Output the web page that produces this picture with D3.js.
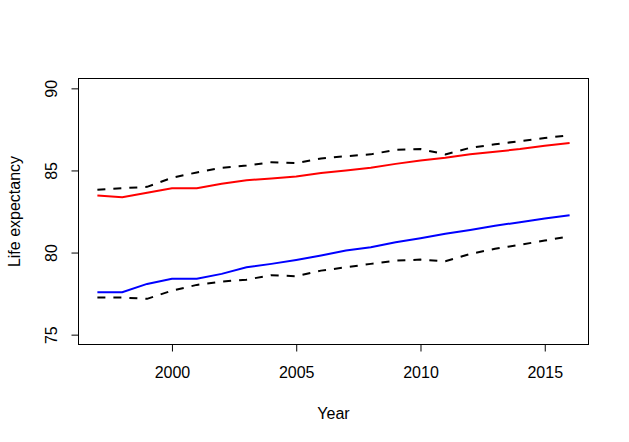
<!DOCTYPE html>
<html>
<head>
<meta charset="utf-8">
<script src="https://cdn.jsdelivr.net/npm/d3@7"></script>
<style>
  body { margin: 0; background: #fff; }
  svg text { font-family: Arial, "Liberation Sans", sans-serif; fill: #000; }
</style>
</head>
<body>
<svg id="chart" width="629" height="442"></svg>
<script>
const years = d3.range(1997, 2017);

// female estimate (red) and its upper band
const female = [83.48, 83.37, 83.64, 83.92, 83.92, 84.19, 84.41, 84.51, 84.63, 84.84,
                85.00, 85.16, 85.40, 85.61, 85.77, 85.98, 86.14, 86.30, 86.50, 86.67];
const femaleUpper = [83.82, 83.92, 84.00, 84.55, 84.88, 85.16, 85.30, 85.50, 85.45, 85.73,
                     85.87, 85.98, 86.26, 86.30, 85.98, 86.38, 86.59, 86.79, 86.97, 87.15];

// male estimate (blue) and its lower band
const male = [77.58, 77.58, 78.09, 78.40, 78.40, 78.70, 79.10, 79.31, 79.55, 79.82,
              80.12, 80.32, 80.63, 80.87, 81.14, 81.38, 81.63, 81.85, 82.07, 82.27];
const maleLower = [77.26, 77.26, 77.18, 77.68, 78.03, 78.23, 78.35, 78.62, 78.56, 78.90,
                   79.10, 79.31, 79.51, 79.57, 79.47, 79.92, 80.23, 80.47, 80.73, 80.99];

const xTicks = [2000, 2005, 2010, 2015];
const yTicks = [75, 80, 85, 90];

const svg = d3.select('#chart');
const plot = {left: 78.5, right: 588.5, top: 78.5, bottom: 344.5};

// R-style 4% padding around data range
const x = d3.scaleLinear().domain([1996.24, 2016.76]).range([plot.left, plot.right]);
const y = d3.scaleLinear().domain([74.4, 90.6]).range([plot.bottom, plot.top]);

const line = d3.line()
    .x((d, i) => x(years[i]))
    .y((d) => y(d));

const series = [
    {values: femaleUpper, color: '#000', dash: '8,8'},
    {values: maleLower, color: '#000', dash: '8,8'},
    {values: female, color: '#ff0000', dash: null},
    {values: male, color: '#0000ff', dash: null}
];

svg.append('g')
  .selectAll('path')
  .data(series)
  .enter()
  .append('path')
    .attr('d', (s) => line(s.values))
    .attr('fill', 'none')
    .attr('stroke', (s) => s.color)
    .attr('stroke-width', 2)
    .attr('stroke-dasharray', (s) => s.dash);

// box
svg.append('rect')
    .attr('x', plot.left)
    .attr('y', plot.top)
    .attr('width', plot.right - plot.left)
    .attr('height', plot.bottom - plot.top)
    .attr('fill', 'none')
    .attr('stroke', '#000')
    .attr('stroke-width', 1);

// x axis
const xAxis = svg.append('g')
    .attr('transform', `translate(0, ${plot.bottom})`)
    .call(d3.axisBottom(x).tickValues(xTicks).tickFormat(d3.format('d')).tickSize(7).tickPadding(15));
xAxis.select('.domain').remove();
xAxis.selectAll('line').attr('stroke', '#000');
xAxis.selectAll('text')
    .attr('font-size', 16)
    .attr('font-family', 'Arial, "Liberation Sans", sans-serif');

// y axis, rotated labels
const yAxis = svg.append('g')
    .attr('transform', `translate(${plot.left}, 0)`)
    .call(d3.axisLeft(y).tickValues(yTicks).tickSize(7));
yAxis.select('.domain').remove();
yAxis.selectAll('line').attr('stroke', '#000');
yAxis.selectAll('text')
    .attr('font-size', 16)
    .attr('font-family', 'Arial, "Liberation Sans", sans-serif')
    .attr('x', null)
    .attr('dy', null)
    .attr('text-anchor', 'middle')
    .attr('transform', 'translate(-22, 0) rotate(-90)');

// axis titles
svg.append('text')
    .attr('x', (plot.left + plot.right) / 2)
    .attr('y', 419)
    .attr('text-anchor', 'middle')
    .attr('font-size', 16)
    .text('Year');

svg.append('text')
    .attr('transform', `translate(20, ${(plot.top + plot.bottom) / 2}) rotate(-90)`)
    .attr('text-anchor', 'middle')
    .attr('font-size', 16)
    .text('Life expectancy');
</script>
</body>
</html>
